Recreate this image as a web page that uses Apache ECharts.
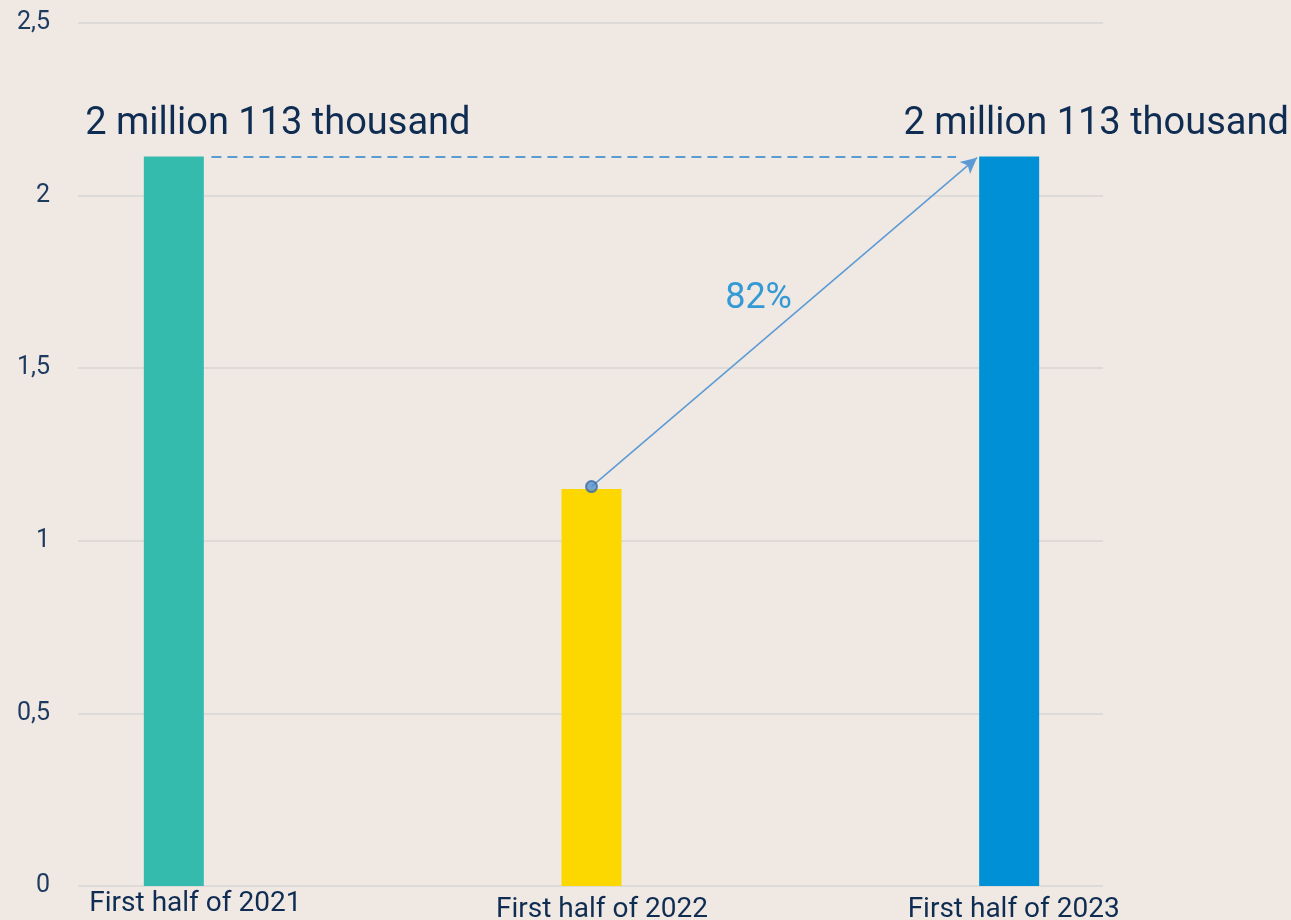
<!DOCTYPE html>
<html>
<head>
<meta charset="utf-8">
<script src="https://cdn.jsdelivr.net/npm/echarts@6/dist/echarts.min.js"></script>
<style>
html, body { margin: 0; padding: 0; background: #f0e8e3; }
#chart { width: 1291px; height: 920px; }
</style>
</head>
<body>
<div id="chart"></div>
<script>
const categories = ['First half of 2021', 'First half of 2022', 'First half of 2023']
const values = [2.113, 1.15, 2.113]
const valueLabels = ['2 million 113 thousand', '', '2 million 113 thousand']
const yMin = 0
const yMax = 2.5
const yStep = 0.5
// connectors, x in bar positions (0 = first bar), y in millions
const dashedLine = [[0.09, 2.113], [1.873, 2.113]]
const growthArrow = [[1, 1.157], [1.923, 2.11]]
const growthText = '82%'
const growthTextAt = [1.4, 1.70]

const barColors = ['#35bbae', '#fcd800', '#0090d5']
const labelShift = [104, 0, 87]
const navy = '#0f2d52'
const font = 'Roboto, sans-serif'

const chart = echarts.init(document.getElementById('chart'))
chart.setOption({
  backgroundColor: '#f0e8e3',
  animation: false,
  textStyle: { fontFamily: font },
  grid: [
    { left: 78, right: 188, top: 23, bottom: 34, outerBoundsMode: 'none' },
    { left: -35, right: 73, top: 23, bottom: 34, outerBoundsMode: 'none' }
  ],
  xAxis: [
    { type: 'value', gridIndex: 0, show: false, min: 0, max: 1 },
    {
      type: 'category',
      gridIndex: 1,
      data: categories,
      axisLine: { show: false },
      axisTick: { show: false },
      axisLabel: {
        margin: 4,
        formatter: (v, i) => `{c${i}|${v}}`,
        rich: {
          c0: { fontSize: 28, color: navy, fontFamily: font, padding: [0, 0, 0, 43] },
          c1: { fontSize: 28, color: navy, fontFamily: font, padding: [6, 0, 0, 21] },
          c2: { fontSize: 28, color: navy, fontFamily: font, padding: [6, 0, 0, 9] }
        }
      }
    },
    { type: 'value', gridIndex: 1, show: false, min: -0.5, max: 2.5 }
  ],
  yAxis: [
    {
      type: 'value',
      gridIndex: 0,
      min: yMin,
      max: yMax,
      interval: yStep,
      axisLine: { show: false },
      axisTick: { show: false },
      axisLabel: {
        margin: 28,
        fontSize: 25,
        color: '#1d3a5f',
        fontFamily: font,
        formatter: v => String(v).replace('.', ',')
      },
      splitLine: { lineStyle: { color: '#dddad7', width: 2 } }
    },
    { type: 'value', gridIndex: 1, min: yMin, max: yMax, show: false }
  ],
  series: [
    {
      type: 'bar',
      xAxisIndex: 1,
      yAxisIndex: 1,
      barWidth: 60,
      data: values.map((v, i) => ({
        value: v,
        itemStyle: { color: barColors[i] },
        label: { offset: [labelShift[i], 0] }
      })),
      label: {
        show: true,
        position: 'top',
        distance: 13,
        fontSize: 38,
        color: navy,
        fontFamily: font,
        formatter: p => valueLabels[p.dataIndex]
      }
    },
    {
      type: 'scatter',
      xAxisIndex: 2,
      yAxisIndex: 1,
      z: 5,
      symbolSize: 11,
      itemStyle: { color: '#5591cf', borderColor: '#3d6da2', borderWidth: 2 },
      data: [growthArrow[0]],
      markLine: {
        silent: true,
        label: { show: false },
        data: [
          [
            { coord: dashedLine[0], symbol: 'none', lineStyle: { color: '#5b9bd5', width: 2, type: [10, 6] } },
            { coord: dashedLine[1], symbol: 'none' }
          ],
          [
            { coord: growthArrow[0], symbol: 'none', lineStyle: { color: '#5b9bd5', width: 1.5, type: 'solid' } },
            { coord: growthArrow[1], symbol: 'arrow', symbolSize: [12, 16] }
          ]
        ]
      }
    },
    {
      type: 'scatter',
      xAxisIndex: 2,
      yAxisIndex: 1,
      symbolSize: 0,
      data: [growthTextAt],
      label: {
        show: true,
        position: 'inside',
        fontSize: 36,
        color: '#0486d2',
        fontFamily: font,
        formatter: () => growthText
      }
    }
  ]
})
</script>
</body>
</html>
